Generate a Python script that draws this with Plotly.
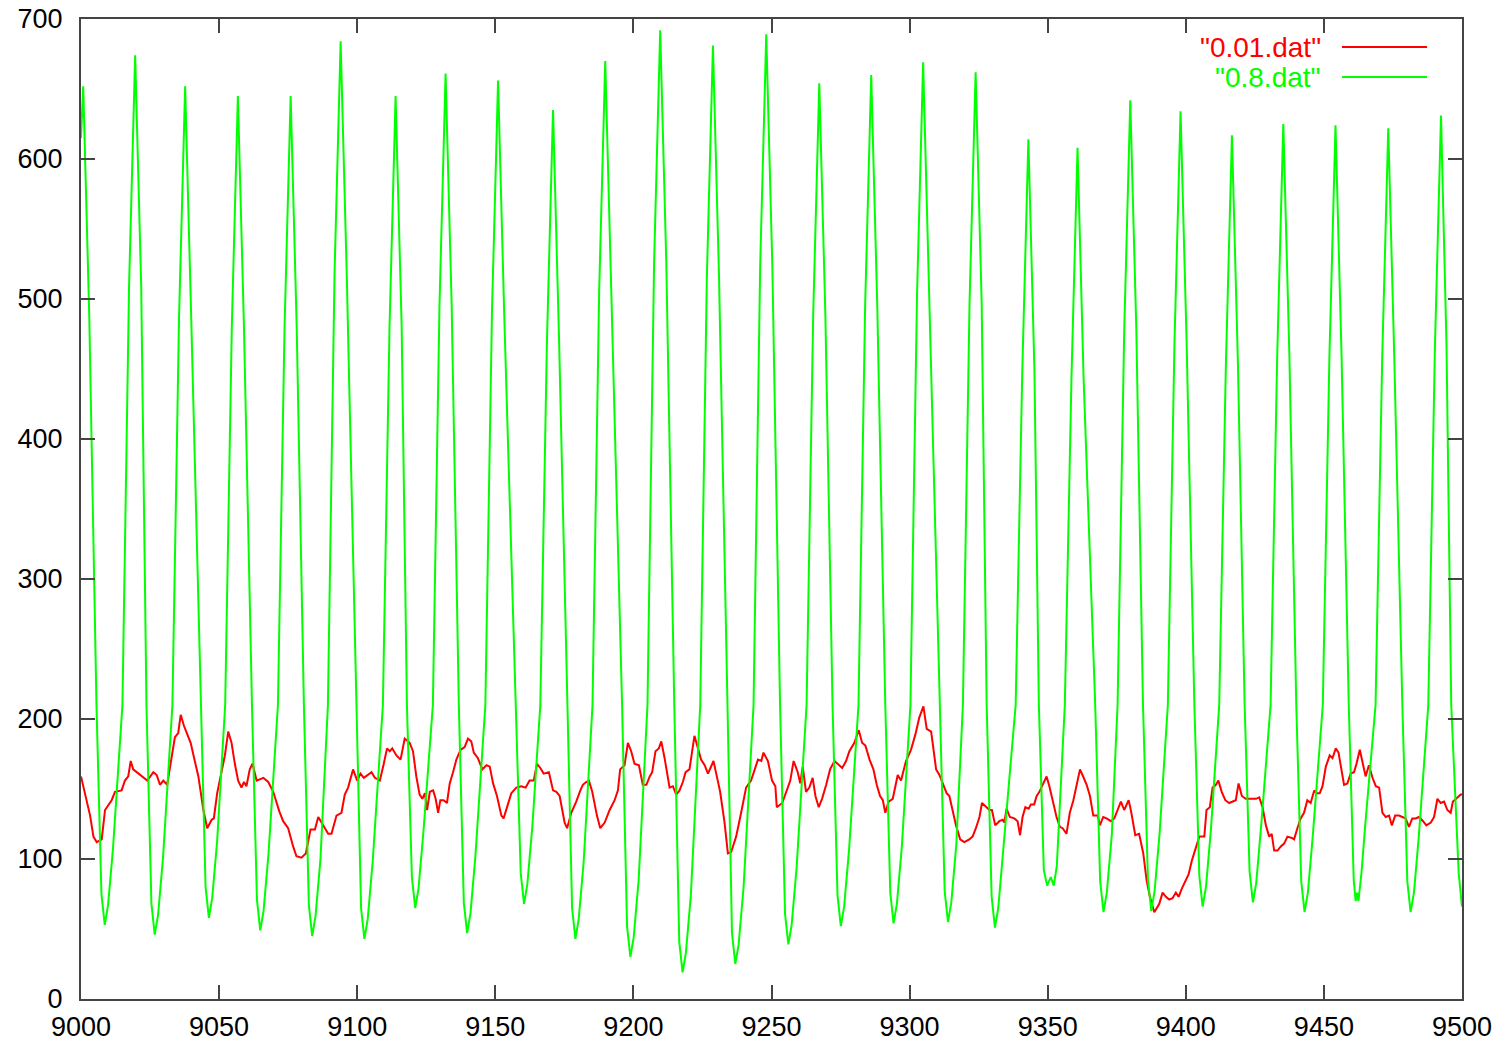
import plotly.graph_objects as go

# ---- series "0.8.dat" (green): vertices ----
green_x = [
    9000.0, 9000.8,
    9003.0, 9005.6, 9007.4, 9008.6, 9009.8, 9011.6, 9015.0, 9017.4, 9019.6,
    9021.8, 9023.7, 9025.5, 9026.7, 9027.9, 9029.7, 9033.1, 9035.5, 9037.7,
    9039.9, 9043.3, 9045.1, 9046.3, 9047.5, 9049.3, 9052.2, 9054.6, 9056.8,
    9059.0, 9061.9, 9063.7, 9064.9, 9066.1, 9067.9, 9071.3, 9073.7, 9075.9,
    9078.1, 9080.7, 9082.5, 9083.7, 9084.9, 9086.7, 9089.4, 9091.8, 9094.0,
    9096.2, 9099.6, 9101.4, 9102.6, 9103.8, 9105.6, 9109.3, 9111.7, 9113.9,
    9116.1, 9118.0, 9119.8, 9121.0, 9122.2, 9124.0, 9127.4, 9129.8, 9132.0,
    9134.2, 9136.8, 9138.6, 9139.8, 9141.0, 9142.8, 9146.4, 9148.8, 9151.0,
    9153.2, 9157.4, 9159.2, 9160.4, 9161.6, 9163.4, 9166.3, 9168.7, 9170.9,
    9173.1, 9176.0, 9177.8, 9179.0, 9180.2, 9182.0, 9185.2, 9187.6, 9189.8,
    9192.0, 9195.9, 9197.7, 9198.9, 9200.1, 9201.9, 9205.1, 9207.5, 9209.7,
    9211.9, 9214.8, 9216.6, 9217.8, 9219.0, 9220.8, 9224.2, 9226.6, 9228.8,
    9231.0, 9233.9, 9235.7, 9236.9, 9238.1, 9239.9, 9243.5, 9245.9, 9248.1,
    9250.3, 9253.1, 9254.9, 9256.1, 9257.3, 9259.1, 9262.7, 9265.1, 9267.3,
    9269.5, 9272.1, 9273.9, 9275.1, 9276.3, 9278.1, 9281.5, 9283.9, 9286.1,
    9288.3, 9291.2, 9293.0, 9294.2, 9295.4, 9297.2, 9300.3, 9302.7, 9304.9,
    9307.1, 9310.9, 9312.7, 9313.9, 9315.1, 9316.9, 9319.3, 9321.7, 9323.9,
    9326.1, 9327.9, 9329.7, 9330.9, 9332.1, 9333.9, 9338.4, 9340.8, 9343.0,
    9345.2, 9346.8, 9348.6, 9349.8, 9351.1, 9352.2, 9353.3, 9354.5, 9356.2, 9358.6, 9360.8,
    9363.0, 9367.2, 9369.0, 9370.2, 9371.4, 9373.2, 9375.3, 9377.7, 9379.9,
    9382.1, 9384.5, 9386.3, 9387.5, 9388.7, 9390.5, 9393.5, 9395.9, 9398.1,
    9400.3, 9403.1, 9404.9, 9406.1, 9407.3, 9409.1, 9412.1, 9414.5, 9416.7,
    9418.9, 9421.3, 9423.1, 9424.3, 9425.5, 9427.3, 9430.7, 9433.1, 9435.3,
    9437.5, 9440.0, 9441.8, 9443.0, 9444.2, 9446.0, 9449.6, 9452.0, 9454.2,
    9456.4, 9459.0, 9460.8, 9461.5, 9462.0, 9462.5, 9463.6, 9465.0, 9468.7, 9471.1, 9473.3,
    9475.5, 9478.4, 9480.2, 9481.4, 9482.6, 9484.4, 9487.8, 9490.2, 9492.4,
    9494.4, 9496.1, 9498.8, 9500.0,
]
green_y = [
    615, 652,
    487, 210, 75, 53, 67, 108, 210, 509, 674,
    509, 210, 68, 46, 60, 101, 210, 487, 652,
    487, 210, 80, 58, 72, 113, 210, 480, 645,
    480, 210, 71, 49, 63, 104, 210, 480, 645,
    480, 210, 67, 45, 59, 100, 210, 519, 684,
    519, 210, 65, 43, 57, 98, 210, 480, 645,
    480, 210, 87, 65, 79, 120, 210, 496, 661,
    496, 210, 69, 47, 61, 102, 210, 491, 656,
    491, 210, 90, 68, 82, 123, 210, 470, 635,
    470, 210, 65, 43, 57, 98, 210, 505, 670,
    505, 210, 52, 30, 44, 85, 210, 527, 692,
    527, 210, 41, 19, 33, 74, 210, 516, 681,
    516, 210, 47, 25, 39, 80, 210, 524, 689,
    524, 210, 61, 39, 53, 94, 210, 489, 654,
    489, 210, 74, 52, 66, 107, 210, 495, 660,
    495, 210, 76, 54, 68, 109, 210, 504, 669,
    504, 210, 77, 55, 69, 110, 210, 497, 662,
    497, 210, 73, 51, 65, 106, 210, 449, 614,
    449, 210, 92, 81, 87, 81, 95, 140, 210, 443, 608,
    443, 210, 84, 62, 76, 117, 210, 477, 642,
    477, 210, 85, 63, 77, 118, 210, 469, 634,
    469, 210, 88, 66, 80, 121, 210, 452, 617,
    452, 210, 91, 69, 83, 124, 210, 460, 625,
    460, 210, 84, 62, 76, 117, 210, 459, 624,
    459, 210, 85, 70, 76, 70, 90, 125, 210, 457, 622,
    457, 210, 84, 62, 76, 117, 210, 466, 631,
    466, 210, 90, 66,
]

# ---- series "0.01.dat" (red): vertices ----
red_x = [
    9000.0, 9003.3, 9004.5, 9005.7, 9007.5, 9008.7, 9011.1, 9012.3, 9014.7, 9015.9,
    9017.1, 9018.0, 9018.9, 9020.7, 9023.2, 9024.0, 9026.2, 9027.4, 9028.6, 9029.8,
    9031.2, 9032.2, 9034.0, 9035.2, 9036.1, 9037.3, 9038.2, 9039.7, 9041.2, 9042.5,
    9044.3, 9045.7, 9047.3, 9048.1, 9049.3, 9050.9, 9052.1, 9053.3, 9054.5, 9055.7,
    9056.9, 9058.1, 9059.0, 9059.9, 9061.1, 9062.1, 9063.6, 9066.0, 9067.8, 9069.6,
    9071.8, 9073.2, 9075.0, 9076.8, 9078.0, 9079.8, 9081.4, 9083.1, 9084.7, 9085.9,
    9087.7, 9089.5, 9090.7, 9092.5, 9094.3, 9095.5, 9096.7,
    9098.5, 9100.0, 9101.2, 9102.4, 9103.6, 9105.2, 9106.4, 9108.2, 9109.4, 9110.8,
    9111.8, 9112.7, 9114.2, 9115.7, 9117.2, 9119.0, 9120.2, 9121.4, 9122.6, 9123.6,
    9124.5, 9125.3, 9126.3, 9127.5, 9128.4, 9129.3, 9130.1, 9131.3, 9132.5, 9133.5,
    9134.7, 9135.9, 9137.4, 9138.9, 9140.1, 9141.3, 9142.2, 9143.7, 9145.3, 9146.8,
    9148.0, 9149.2, 9150.6, 9152.2, 9153.0, 9154.3, 9155.8, 9157.6, 9159.4, 9161.0,
    9162.4, 9163.9, 9165.1, 9166.3, 9167.5, 9169.4, 9170.9, 9172.1, 9173.3, 9175.1,
    9176.0, 9177.5, 9179.3, 9180.8, 9181.7, 9182.9, 9183.9, 9185.1, 9186.8, 9188.0,
    9189.6, 9191.4, 9193.2, 9194.4, 9195.2, 9196.8, 9198.0, 9199.2, 9200.4, 9202.0,
    9203.4, 9204.7,
    9205.9, 9206.8, 9208.0, 9209.2, 9210.1, 9211.3, 9213.1, 9214.3, 9215.5, 9216.7,
    9217.9, 9218.9, 9220.3, 9222.1, 9223.3, 9224.5, 9225.8, 9227.0, 9227.9, 9229.0,
    9230.2, 9231.4, 9233.0, 9234.2, 9235.4, 9237.2, 9239.0, 9240.8, 9242.6, 9243.8,
    9245.1, 9246.3, 9247.1, 9248.7, 9250.2, 9251.4, 9251.9, 9253.9, 9255.3, 9256.8,
    9258.0, 9259.5, 9260.4, 9261.3, 9262.5, 9263.7, 9264.9, 9265.9, 9267.1, 9268.3,
    9269.8, 9271.2, 9272.8, 9274.4, 9275.6, 9277.0, 9278.2, 9280.0, 9281.6, 9282.8,
    9284.0, 9285.5, 9286.9, 9288.1, 9289.3, 9290.3, 9291.2, 9292.4, 9293.9, 9295.7,
    9296.9, 9298.7, 9300.5, 9302.1, 9303.5, 9305.0, 9306.2, 9307.8,
    9309.6, 9310.8, 9312.2, 9313.4, 9314.4, 9315.6, 9316.8, 9318.3, 9319.8, 9321.6,
    9322.8, 9324.0, 9325.3, 9326.2, 9327.7, 9328.9, 9329.8, 9331.0, 9332.5, 9333.7,
    9334.3, 9335.1, 9336.3, 9337.9, 9339.1, 9340.0, 9340.9, 9341.9, 9343.1, 9343.9,
    9345.1, 9346.0, 9347.0, 9348.2, 9349.6, 9350.6, 9351.8, 9353.2, 9354.4, 9355.4,
    9356.8, 9358.0, 9359.3, 9360.5, 9361.7, 9362.6, 9364.1, 9365.3, 9366.5, 9368.1,
    9368.9, 9370.1, 9371.3, 9372.9, 9374.1, 9375.3, 9376.5, 9377.7, 9379.3, 9380.1,
    9381.7, 9383.1, 9384.6, 9385.8, 9387.0, 9388.6, 9390.4, 9391.6, 9392.8, 9394.0,
    9395.2, 9396.4, 9397.4, 9398.6, 9399.8, 9401.0, 9402.2, 9403.4,
    9404.9, 9406.7, 9407.5, 9408.7, 9409.7, 9410.9, 9411.8, 9413.0, 9414.3, 9415.7,
    9416.9, 9418.1, 9419.1, 9420.3, 9421.7, 9423.5, 9425.4, 9426.6, 9427.8, 9429.0,
    9430.2, 9431.1, 9432.0, 9433.2, 9434.4, 9435.6, 9436.8, 9438.4, 9439.2, 9440.4,
    9441.6, 9442.8, 9444.0, 9445.2, 9446.5, 9447.3, 9448.5, 9449.5, 9450.7, 9452.1,
    9453.1, 9454.3, 9455.3, 9456.5, 9457.3, 9458.5, 9459.7, 9460.9, 9461.8, 9463.0,
    9464.2, 9465.1, 9466.3, 9467.6, 9468.8, 9470.0, 9471.2, 9472.4, 9473.6, 9474.6,
    9475.8, 9477.2, 9478.4, 9479.6, 9480.8, 9482.0, 9483.2, 9484.4, 9485.9, 9487.1,
    9488.7, 9489.9, 9491.1, 9492.3, 9493.5, 9494.7, 9495.9, 9496.7, 9497.9, 9499.5,
    9500.0,
]
red_y = [
    159, 131, 116, 112, 114, 135, 142, 148, 149, 156,
    159, 170, 164, 161, 157, 156, 162, 160, 153, 156,
    153, 166, 187, 190, 203, 195, 190, 183, 170, 159,
    135, 122, 128, 129, 147, 164, 174, 191, 183, 168,
    156, 151, 155, 152, 164, 168, 156, 158, 155, 148,
    134, 127, 122, 109, 102, 101, 104, 121, 121, 130,
    124, 118, 118, 131, 133, 146, 151,
    164, 156, 161, 158, 160, 162, 158, 156, 166, 179,
    177, 179, 174, 171, 186, 183, 177, 159, 146, 143,
    147, 135, 148, 149, 143, 133, 142, 142, 140, 154,
    162, 171, 178, 180, 186, 184, 176, 172, 164, 167,
    166, 154, 145, 131, 129, 137, 147, 151, 152, 151,
    156, 156, 168, 165, 161, 162, 149, 148, 145, 126,
    122, 133, 141, 149, 153, 155, 156, 148, 131, 122,
    126, 135, 142, 149, 164, 167, 183, 177, 168, 167,
    153, 153,
    159, 162, 177, 179, 184, 172, 151, 152, 146, 149,
    155, 162, 164, 188, 180, 171, 167, 161, 165, 170,
    159, 148, 126, 104, 105, 116, 133, 151, 156, 164,
    171, 170, 176, 170, 156, 152, 137, 140, 148, 156,
    170, 162, 154, 166, 148, 151, 158, 145, 137, 143,
    153, 164, 170, 167, 165, 170, 177, 183, 192, 183,
    181, 171, 164, 153, 145, 142, 133, 141, 143, 160,
    156, 170, 178, 189, 201, 209, 193, 191,
    164, 160, 153, 147, 145, 134, 124, 114, 112, 114,
    116, 122, 130, 140, 137, 135, 135, 124, 127, 128,
    126, 136, 130, 129, 127, 117, 130, 137, 136, 139,
    139, 145, 148, 153, 159, 152, 142, 130, 123, 122,
    118, 133, 142, 152, 164, 160, 153, 145, 131, 131,
    124, 130, 129, 127, 129, 135, 141, 135, 142, 135,
    117, 118, 104, 85, 73, 62, 68, 76, 73, 71,
    72, 76, 73, 79, 84, 89, 99, 106,
    116, 116, 135, 137, 151, 153, 156, 148, 142, 140,
    141, 142, 154, 145, 143, 143, 143, 144, 137, 124,
    116, 118, 106, 106, 109, 111, 116, 115, 114, 122,
    129, 133, 142, 140, 149, 147, 147, 152, 166, 174,
    172, 179, 176, 162, 153, 154, 161, 162, 168, 178,
    168, 159, 167, 158, 152, 151, 133, 130, 131, 124,
    131, 131, 130, 129, 123, 129, 129, 130, 127, 124,
    126, 130, 143, 140, 141, 135, 133, 141, 143, 146,
    146,
]

x_ticks = [9000, 9050, 9100, 9150, 9200, 9250, 9300, 9350, 9400, 9450, 9500]
y_ticks = [0, 100, 200, 300, 400, 500, 600, 700]
series_names = ['"0.01.dat"', '"0.8.dat"']
series_colors = ["#ff0000", "#00ff00"]

FONT = "Liberation Sans, Arial, Helvetica, sans-serif"

fig = go.Figure()
fig.add_trace(go.Scatter(x=red_x, y=red_y, mode="lines", name=series_names[0],
                         line=dict(color=series_colors[0], width=2), showlegend=False))
fig.add_trace(go.Scatter(x=green_x, y=green_y, mode="lines", name=series_names[1],
                         line=dict(color=series_colors[1], width=2), showlegend=False))

# gnuplot-style key: right-aligned text followed by a line sample
key_rows_y = [0.9714, 0.9408]
for name, color, ky in zip(series_names, series_colors, key_rows_y):
    fig.add_annotation(xref="paper", yref="paper", x=0.8994, y=ky, text=name,
                       showarrow=False, xanchor="right", yanchor="middle",
                       font=dict(family=FONT, size=28, color=color))
    fig.add_shape(type="line", xref="paper", yref="paper", x0=0.9131, x1=0.9747,
                  y0=ky, y1=ky, line=dict(color=color, width=2))

axis_common = dict(showgrid=False, zeroline=False, showline=True, linecolor="#444444",
                   linewidth=2, mirror="ticks", ticks="inside", ticklen=14,
                   tickwidth=2, tickcolor="#444444", automargin=False,
                   tickfont=dict(family=FONT, size=27, color="black"))

fig.update_xaxes(range=[9000, 9500], tickmode="array", tickvals=x_ticks,
                 ticktext=[str(v) for v in x_ticks], ticklabelstandoff=3, **axis_common)
fig.update_yaxes(range=[0, 700], tickmode="array", tickvals=y_ticks,
                 ticktext=[str(v) for v in y_ticks], ticklabelstandoff=11, **axis_common)

fig.update_layout(template="none", width=1502, height=1045,
                  paper_bgcolor="white", plot_bgcolor="white",
                  margin=dict(l=81, r=40, t=19, b=46, autoexpand=False), showlegend=False)

fig.write_html("out.html", config={"displayModeBar": False},
               post_script="document.body.style.margin='0';")
